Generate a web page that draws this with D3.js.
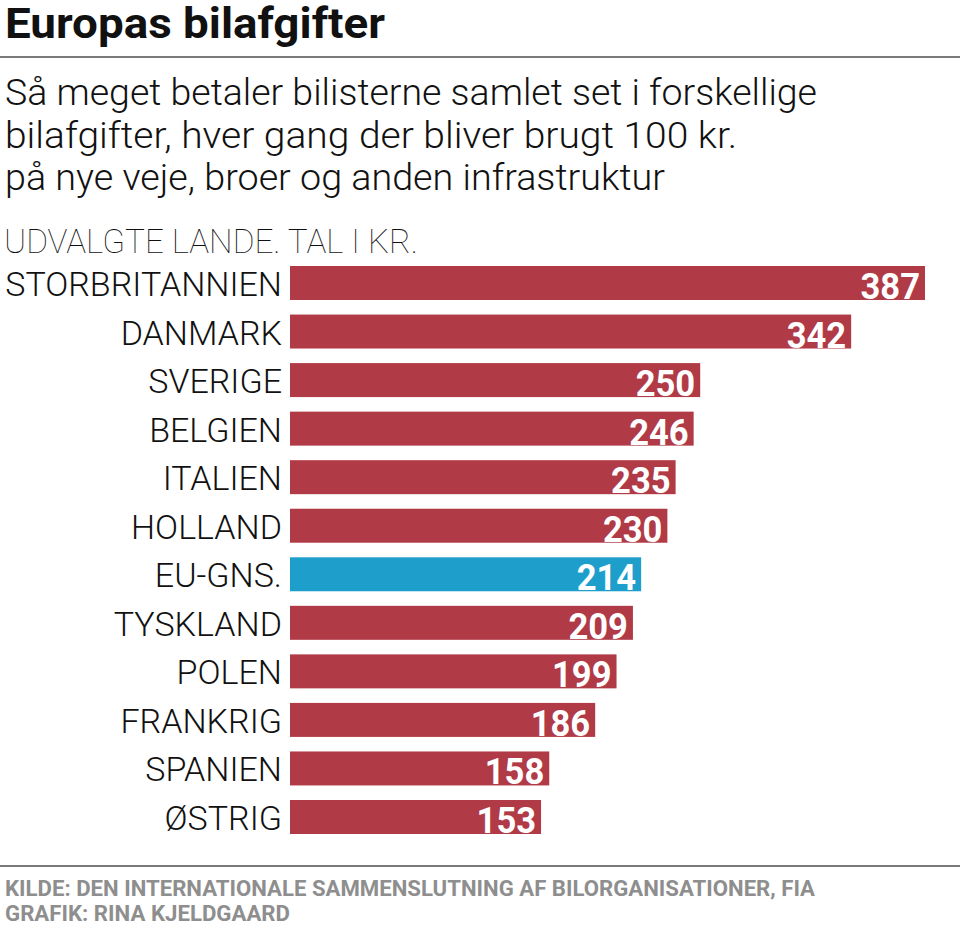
<!DOCTYPE html>
<html>
<head>
<meta charset="utf-8">
<script src="https://cdn.jsdelivr.net/npm/d3@7"></script>
<style>
  body { margin: 0; background: #fff; }
  text { font-family: Roboto, "Noto Sans", sans-serif; }
</style>
</head>
<body>
<svg id="chart" width="960" height="950"></svg>
<script>
const countries = [
  "STORBRITANNIEN", "DANMARK", "SVERIGE", "BELGIEN", "ITALIEN", "HOLLAND",
  "EU-GNS.", "TYSKLAND", "POLEN", "FRANKRIG", "SPANIEN", "ØSTRIG"
];
const values = [387, 342, 250, 246, 235, 230, 214, 209, 199, 186, 158, 153];
const highlight = ["EU-GNS."];

const title = "Europas bilafgifter";
const subtitle = [
  "Så meget betaler bilisterne samlet set i forskellige",
  "bilafgifter, hver gang der bliver brugt 100 kr.",
  "på nye veje, broer og anden infrastruktur"
];
const note = "UDVALGTE LANDE. TAL I KR.";
const footer = [
  "KILDE: DEN INTERNATIONALE SAMMENSLUTNING AF BILORGANISATIONER, FIA",
  "GRAFIK: RINA KJELDGAARD"
];

const red = "#b03a46";
const blue = "#1e9ecb";

const svg = d3.select("#chart");

// squeeze text horizontally to mimic the condensed newspaper font
function condense(sel, k) {
  sel.each(function () {
    const w = this.getComputedTextLength();
    d3.select(this)
      .attr("textLength", w * k)
      .attr("lengthAdjust", "spacingAndGlyphs");
  });
}
function fitTo(sel, w) {
  sel.attr("textLength", w).attr("lengthAdjust", "spacingAndGlyphs");
}

// header
svg.append("text")
  .attr("x", 5).attr("y", 38)
  .style("font-size", "42px").style("font-weight", 700).style("fill", "#111")
  .text(title)
  .call(fitTo, 380);

svg.append("line")
  .attr("x1", 0).attr("x2", 960).attr("y1", 57).attr("y2", 57)
  .attr("stroke", "#7a7a7a").attr("stroke-width", 2);

const subWidths = [812, 732, 660];
svg.selectAll(".sub")
  .data(subtitle)
  .enter()
  .append("text")
  .attr("class", "sub")
  .attr("x", 5)
  .attr("y", (d, i) => 105 + i * 42.5)
  .style("font-size", "36px").style("font-weight", 300).style("fill", "#111")
  .text((d) => d)
  .each(function (d, i) { fitTo(d3.select(this), subWidths[i]); });

svg.append("text")
  .attr("x", 4).attr("y", 253)
  .style("font-size", "33px").style("font-weight", 100).style("fill", "#111")
  .text(note)
  .call(fitTo, 414);

// bars
const x = d3.scaleLinear()
  .domain([0, d3.max(values)])
  .range([290, 925]);

const y = d3.scaleBand()
  .domain(countries)
  .range([266, 834])
  .paddingInner(0.3)
  .paddingOuter(0);

const rows = countries.map((c, i) => ({ label: c, value: values[i] }));

svg.selectAll(".bar")
  .data(rows)
  .enter()
  .append("rect")
  .attr("class", "bar")
  .attr("x", x(0))
  .attr("y", (d) => y(d.label))
  .attr("width", (d) => x(d.value) - x(0))
  .attr("height", y.bandwidth())
  .attr("fill", (d) => (highlight.includes(d.label) ? blue : red));

// category labels via axis
const yAxis = d3.axisLeft(y).tickSize(0).tickPadding(0);
const axisG = svg.append("g")
  .attr("transform", `translate(${x(0) - 8},0)`)
  .call(yAxis);
axisG.select(".domain").remove();
axisG.selectAll("text")
  .attr("dy", null)
  .attr("y", y.bandwidth() / 2 - 4)
  .style("font-family", "Roboto, sans-serif")
  .style("font-size", "34px")
  .style("font-weight", 300)
  .style("fill", "#111")
  .call(condense, 1.0);

// value labels
svg.selectAll(".val")
  .data(rows)
  .enter()
  .append("text")
  .attr("class", "val")
  .attr("x", (d) => x(d.value) - 5)
  .attr("y", (d) => y(d.label) + y.bandwidth() - 1)
  .attr("text-anchor", "end")
  .style("font-size", "36px").style("font-weight", 700).style("fill", "#fff")
  .text((d) => d.value)
  .call(condense, 0.96);

// footer
svg.append("line")
  .attr("x1", 0).attr("x2", 960).attr("y1", 866).attr("y2", 866)
  .attr("stroke", "#7a7a7a").attr("stroke-width", 2);

const footWidths = [810, 285];
svg.selectAll(".foot")
  .data(footer)
  .enter()
  .append("text")
  .attr("class", "foot")
  .attr("x", 5)
  .attr("y", (d, i) => 896 + i * 25)
  .style("font-size", "22px").style("font-weight", 700).style("fill", "#8e8e8e")
  .text((d) => d)
  .each(function (d, i) { fitTo(d3.select(this), footWidths[i]); });
</script>
</body>
</html>
